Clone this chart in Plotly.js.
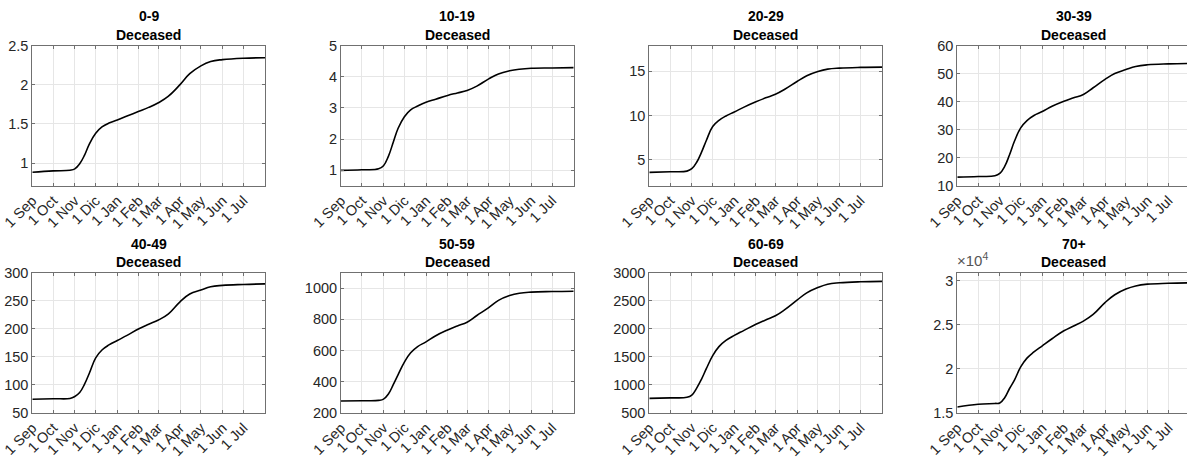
<!DOCTYPE html>
<html>
<head>
<meta charset="utf-8">
<script src="https://cdn.plot.ly/plotly-3.0.1.min.js"></script>
<style>
html,body{margin:0;padding:0;background:#fff;overflow:hidden;}
#chart{width:1195px;height:458px;}
</style>
</head>
<body>
<div id="chart"></div>
<script>
// ---- data ----
const dates = ["2020-09-01","2020-10-01","2020-10-25","2020-11-01","2020-11-08","2020-11-15","2020-11-22",
  "2020-12-01","2020-12-10","2020-12-20","2021-01-01","2021-01-15","2021-02-01","2021-02-15",
  "2021-03-01","2021-03-15","2021-04-01","2021-04-15","2021-05-01","2021-05-15","2021-06-01",
  "2021-07-01","2021-08-01"];

const groups = ["0-9","10-19","20-29","30-39","40-49","50-59","60-69","70+"];

const deceased_0_9   = [0.883,0.90,0.908,0.925,0.99,1.10,1.245,1.38,1.46,1.51,1.55,1.60,1.66,1.71,1.77,1.85,2.0,2.14,2.24,2.295,2.32,2.338,2.343];
const deceased_10_19 = [1.0,1.02,1.05,1.15,1.45,1.9,2.35,2.72,2.94,3.06,3.18,3.28,3.4,3.48,3.56,3.7,3.93,4.09,4.19,4.24,4.27,4.28,4.29];
const deceased_20_29 = [3.56,3.63,3.7,3.97,4.7,5.85,7.2,8.75,9.45,9.95,10.4,10.95,11.55,12.0,12.4,13.0,13.85,14.5,14.98,15.25,15.37,15.45,15.48];
const deceased_30_39 = [13.0,13.2,13.45,14.3,16.8,21.0,25.8,30.6,33.2,35.0,36.4,38.3,40.1,41.3,42.5,44.9,47.9,50.0,51.4,52.5,53.1,53.45,53.6];
const deceased_40_49 = [74,75,75.5,79,86,101,121,148,162,171,179,188,200,208,215.5,226,248,262,269,275,277.4,279,280];
const deceased_50_59 = [275,277,279,287,320,380,445,525,585,625,655,695,732,758,782,825,875,922,953,968,975,979,981];
const deceased_60_69 = [755,765,775,815,940,1100,1290,1520,1680,1790,1880,1970,2080,2155,2230,2345,2510,2640,2735,2795,2820,2838,2845];
const deceased_70p   = [15650,15960,16050,16100,16700,17750,18700,20200,21200,21900,22600,23400,24300,24850,25400,26160,27500,28400,29050,29400,29600,29700,29750];

const series = [deceased_0_9,deceased_10_19,deceased_20_29,deceased_30_39,deceased_40_49,deceased_50_59,deceased_60_69,deceased_70p];

const yRanges = [[0.713,2.5],[0.516,5],[2.07,17.93],[10,60],[50,300],[200,1100],[500,3000],[15000,30900]];
const yTickVals = [[1,1.5,2,2.5],[1,2,3,4,5],[5,10,15],[10,20,30,40,50,60],[50,100,150,200,250,300],
  [200,400,600,800,1000],[500,1000,1500,2000,2500,3000],[15000,20000,25000,30000]];
const yTickText = [["1","1.5","2","2.5"],["1","2","3","4","5"],["5","10","15"],["10","20","30","40","50","60"],
  ["50","100","150","200","250","300"],["200","400","600","800","1000"],["500","1000","1500","2000","2500","3000"],
  ["1.5","2","2.5","3"]];

const xTickVals = ["2020-09-01","2020-10-01","2020-11-01","2020-12-01","2021-01-01","2021-02-01","2021-03-01",
  "2021-04-01","2021-05-01","2021-06-01","2021-07-01"];
const xTickText = ["1 Sep","1 Oct","1 Nov","1 Dic","1 Jan","1 Feb","1 Mar","1 Apr","1 May","1 Jun","1 Jul"];
const xRange = ["2020-09-01","2021-08-01"];

// ---- layout geometry (pixels) ----
const W = 1195, H = 458;
const lefts = [32.3, 341, 649.3, 957.3];
const pw = 232.7;
const rowsTop = [45.5, 272.7];
const ph = 140;
const titleY = [[16, 35.5],[244, 262]];

const FONT = "Liberation Sans, Arial, Helvetica, sans-serif";
const TXT = "#262626";
const AXC = "#707070";

const traces = [];
const layout = {
  width: W, height: H,
  margin: {l:0, r:0, t:0, b:0},
  paper_bgcolor: "#fff", plot_bgcolor: "#fff",
  showlegend: false,
  font: {family: FONT, size: 14, color: TXT},
  annotations: []
};

for (let i = 0; i < 8; i++) {
  const row = Math.floor(i/4), col = i % 4;
  const k = i === 0 ? "" : String(i+1);
  traces.push({
    x: dates, y: series[i], type: "scatter", mode: "lines",
    line: {color: "#000", width: 1.6, shape: "spline", smoothing: 1.2},
    xaxis: "x"+k, yaxis: "y"+k, hoverinfo: "skip"
  });
  const x0 = lefts[col]/W, x1 = (lefts[col]+pw)/W;
  const yt = rowsTop[row], yb = yt + ph;
  const common = {
    showline: true, linecolor: AXC, linewidth: 1, mirror: "allticks",
    ticks: "inside", ticklen: 3, tickcolor: AXC, tickwidth: 1,
    showgrid: true, gridcolor: "#e6e6e6", gridwidth: 1, zeroline: false,
    tickfont: {family: FONT, size: 14.5, color: TXT}, fixedrange: true
  };
  layout["xaxis"+k] = Object.assign({}, common, {
    domain: [x0, x1], anchor: "y"+k, type: "date", range: xRange,
    tickmode: "array", tickvals: xTickVals, ticktext: xTickText, tickangle: -45
  });
  layout["yaxis"+k] = Object.assign({}, common, {
    domain: [1 - yb/H, 1 - yt/H], anchor: "x"+k, range: yRanges[i],
    tickmode: "array", tickvals: yTickVals[i], ticktext: yTickText[i]
  });
  const cx = (lefts[col] + pw/2)/W;
  layout.annotations.push({
    xref: "paper", yref: "paper", x: cx, y: 1 - titleY[row][0]/H, xanchor: "center", yanchor: "middle",
    text: "<b>" + groups[i] + "</b>", showarrow: false, font: {family: FONT, size: 14, color: "#000"}
  });
  layout.annotations.push({
    xref: "paper", yref: "paper", x: cx, y: 1 - titleY[row][1]/H, xanchor: "center", yanchor: "middle",
    text: "<b>Deceased</b>", showarrow: false, font: {family: FONT, size: 14, color: "#000"}
  });
}
// exponent label for 70+ panel
layout.annotations.push({
  xref: "paper", yref: "paper", x: (lefts[3]-2)/W, y: 1 - 271/H, xanchor: "left", yanchor: "bottom",
  text: "\u00d710<sup>4</sup>", showarrow: false, font: {family: FONT, size: 15, color: "#555"}
});

Plotly.newPlot("chart", traces, layout, {staticPlot: true, displayModeBar: false});
</script>
</body>
</html>
